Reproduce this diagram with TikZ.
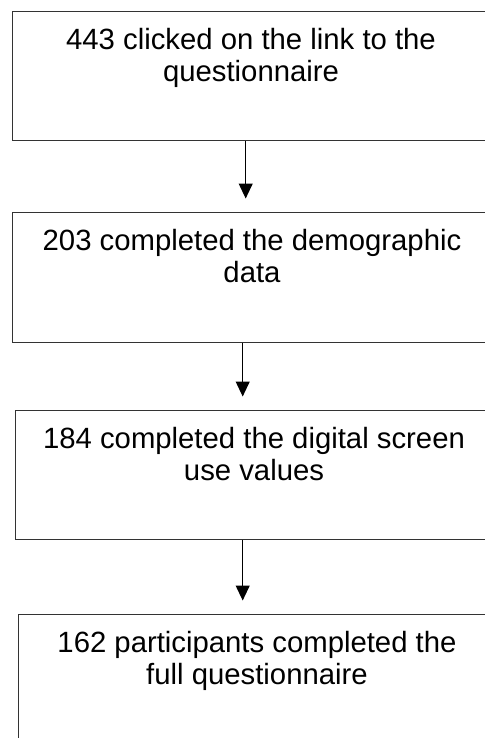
\documentclass[tikz,border=0pt]{standalone}
\usepackage{fontspec}
\setmainfont{Liberation Sans}
\usetikzlibrary{arrows.meta}
\begin{document}
\begin{tikzpicture}[x=1pt,y=1pt,
  boxstyle/.style={draw=black!80, line width=1.2pt, rectangle, inner sep=0pt, anchor=north west},
  lbl/.style={anchor=north, inner sep=0pt, align=center, font=\fontsize{29.3}{32.5}\selectfont},
  arr/.style={draw=black, line width=1.1pt, -{Triangle[length=15pt,width=14pt]}, shorten >=13.5pt}]
\useasboundingbox (0,0) rectangle (484,-738);
\node[boxstyle, minimum width=490pt, minimum height=129pt] (b1) at (12,-11) {};
\node[boxstyle, minimum width=490pt, minimum height=129.5pt] (b2) at (12,-212) {};
\node[boxstyle, minimum width=490pt, minimum height=129pt] (b3) at (15,-410) {};
\node[boxstyle, minimum width=490pt, minimum height=129pt] (b4) at (18,-614) {};
\node[lbl] (t1) at (251,-28) {443 clicked on the link to the\\questionnaire};
\node[lbl] (t2) at (252,-229) {203 completed the demographic\\data};
\node[lbl] (t3) at (254,-427) {184 completed the digital screen\\use values};
\node[lbl] (t4) at (257,-631) {162 participants completed the\\full questionnaire};
\coordinate (a1) at (245.7,0);
\coordinate (a2) at (242.7,0);
\coordinate (a3) at (242.7,0);
\draw[arr] (b1.south -| a1) -- (b2.north -| a1);
\draw[arr] (b2.south -| a2) -- (b3.north -| a2);
\draw[arr] (b3.south -| a3) -- (b4.north -| a3);
\end{tikzpicture}
\end{document}
